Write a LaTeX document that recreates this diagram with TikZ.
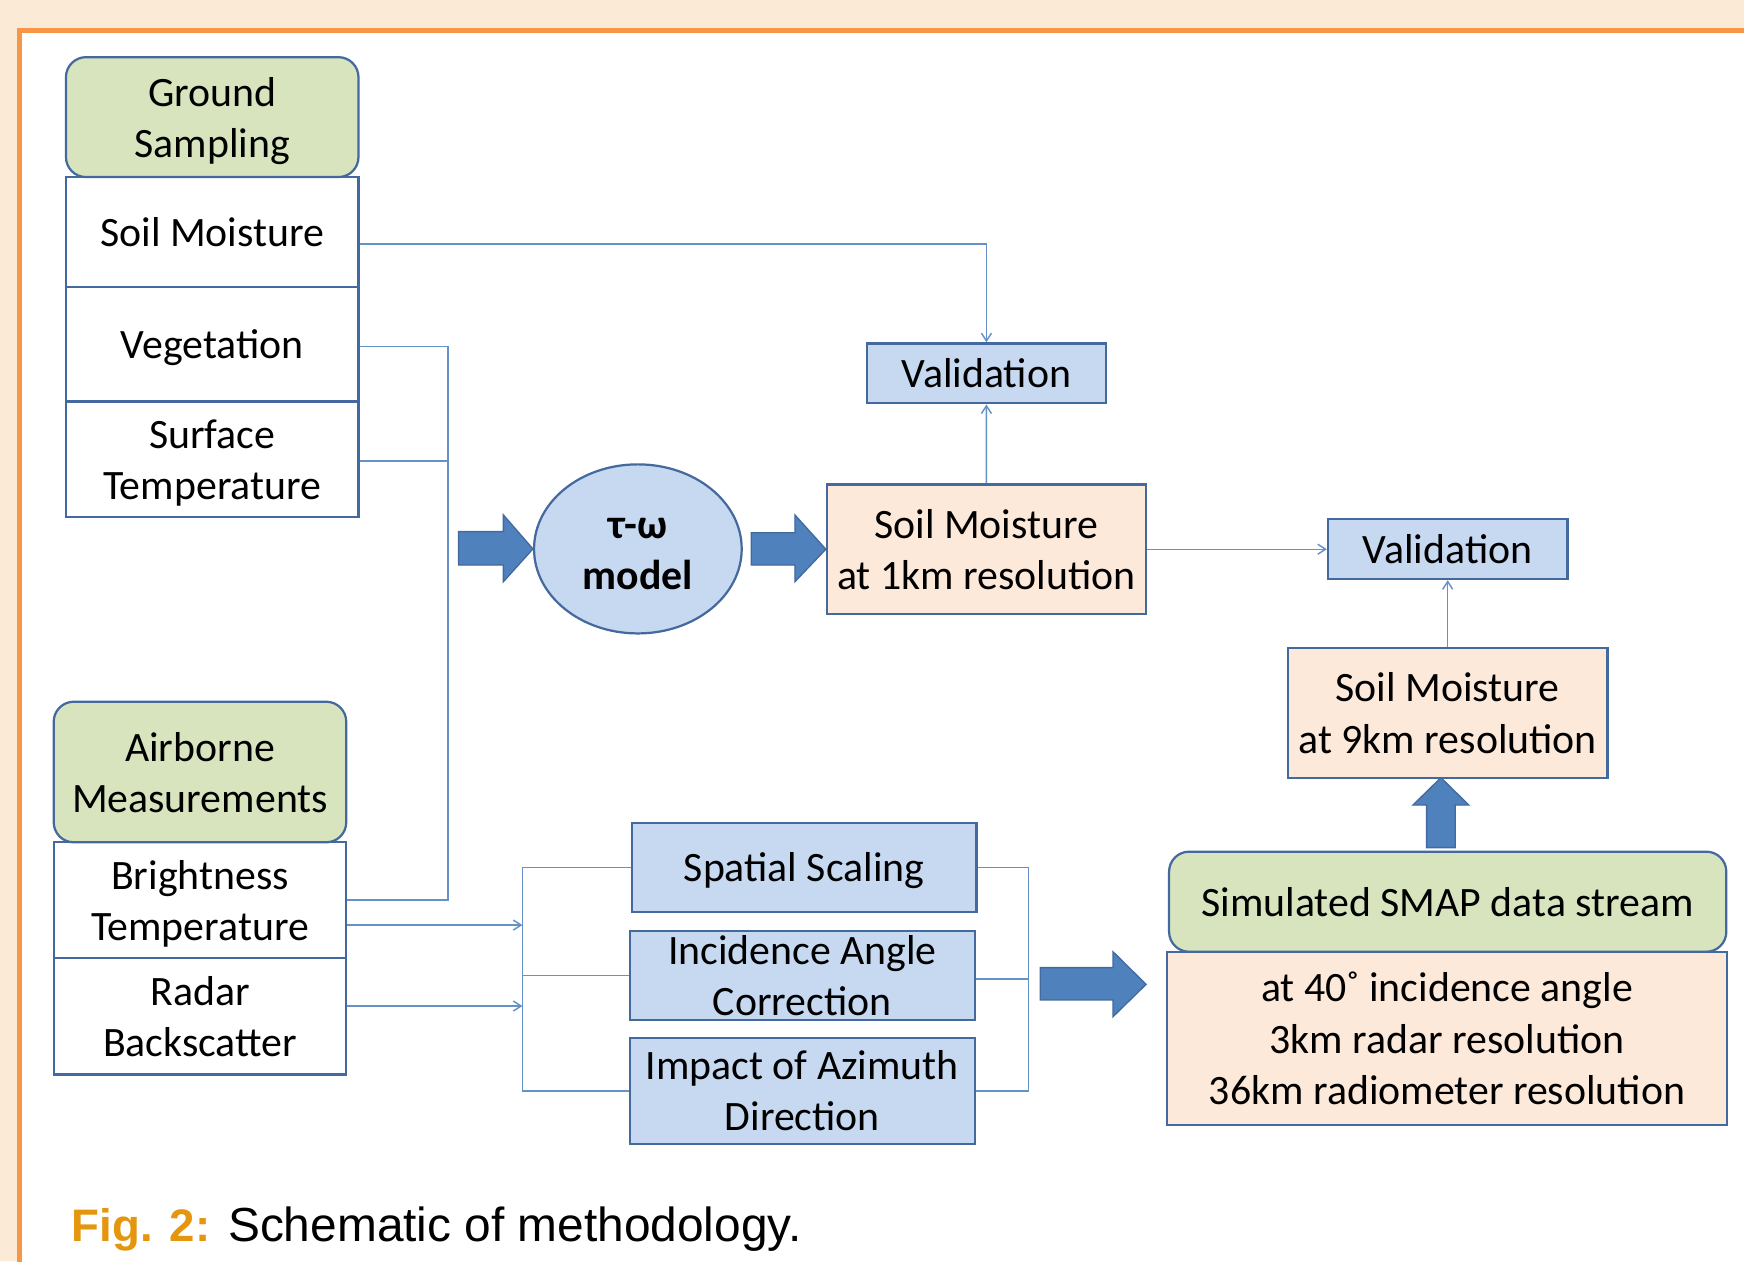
\documentclass[tikz,border=0pt]{standalone}
\usepackage{fontspec}
\setmainfont{Carlito}
\newfontfamily\capfont{Liberation Sans}
\usetikzlibrary{arrows.meta,positioning,shapes.geometric}
\definecolor{cream}{HTML}{FBEBD6}
\definecolor{frameorange}{HTML}{F79646}
\definecolor{boxline}{HTML}{44699E}
\definecolor{linkblue}{HTML}{6690C8}
\definecolor{greenfill}{HTML}{D7E4BD}
\definecolor{bluefill}{HTML}{C6D9F1}
\definecolor{peachfill}{HTML}{FDE9D9}
\definecolor{arrowblue}{HTML}{4F81BD}
\definecolor{figorange}{HTML}{E4960E}
\newcommand\linestrut{\rule[-9.75pt]{0pt}{46pt}}

\begin{document}
\begin{tikzpicture}[x=1pt,y=-1pt,
  box/.style={draw=boxline,line width=2pt,align=center,inner sep=0pt,font=\fontsize{37.6}{46}\selectfont},
  lines/.style={execute at begin node=\linestrut,execute at end node=\linestrut},
  head/.style={box,lines,fill=greenfill,rounded corners=18pt},
  item/.style={box,lines,fill=white},
  task/.style={box,fill=bluefill},
  result/.style={box,lines,fill=peachfill},
  conn/.style={draw=linkblue,line width=1.3pt},
  bigarrow/.style={fill=arrowblue,draw=boxline,line width=1.2pt},
  >={Straight Barb[length=7pt,width=9pt]}]
\useasboundingbox (0,0) rectangle (1568,1134);
\fill[cream] (0,0) rectangle (1568,1134);
\fill[white] (17.5,27) rectangle (1568,1134);
\draw[frameorange,line width=4.5pt] (17.5,1140) -- (17.5,27) -- (1575,27);

\node[item,minimum width=263pt,minimum height=98.8pt] (SoilM) at (190.8,208.6) {Soil Moisture};
\node[item,minimum width=263pt,minimum height=103pt] (Veg) at (190.8,309.5) {Vegetation};
\node[item,minimum width=263pt,minimum height=104pt] (SurfT) at (190.8,413) {\linestrut Surface\\Temperature};
\node[head,minimum width=263pt,minimum height=107.8pt] (Ground) at (190.8,105.3) {\linestrut Ground\\Sampling};

\node[item,minimum width=263pt,minimum height=103.7pt] (Bright) at (179.8,809.2) {\linestrut Brightness\\Temperature};
\node[item,minimum width=263pt,minimum height=105pt] (Radar) at (179.8,913.5) {\linestrut Radar\\Backscatter};
\node[head,minimum width=263pt,minimum height=126.4pt] (Airborne) at (179.8,694.1) {\linestrut Airborne\\Measurements};

\node[box,lines,ellipse,fill=bluefill,minimum width=186.7pt,minimum height=152pt] (Tau) at (573.5,493.5) {\linestrut\textbf{τ-ω}\\\textbf{model}};
\node[task,minimum width=214.7pt,minimum height=53.9pt] (Val1) at (886.9,335.7) {Validation};
\node[result,minimum width=286.6pt,minimum height=116.5pt] (SM1) at (886.8,493.8) {\linestrut Soil Moisture\\at 1km resolution};
\node[task,minimum width=215.3pt,minimum height=53.7pt] (Val2) at (1301.6,493.8) {Validation};
\node[result,minimum width=287.3pt,minimum height=116.9pt] (SM9) at (1301.6,640.8) {\linestrut Soil Moisture\\at 9km resolution};
\node[result,minimum width=503.4pt,minimum height=155.8pt] (Specs) at (1301,933.6) {\linestrut at 40˚ incidence angle\\3km radar resolution\\36km radiometer resolution};
\node[head,minimum width=501pt,minimum height=90pt] (SMAP) at (1301.6,810.7) {Simulated SMAP data stream};

\node[task,lines,minimum width=310pt,minimum height=80pt] (Spatial) at (723,779.7) {Spatial Scaling};
\node[task,minimum width=310pt,minimum height=80.3pt] (Incid) at (721.4,877) {Incidence Angle\\Correction};
\node[task,minimum width=310pt,minimum height=95.6pt] (Impact) at (721.4,980.8) {Impact of Azimuth\\Direction};

\node[anchor=base west,inner sep=0pt,font=\capfont\fontsize{43}{50}\selectfont] (caption) at (64.5,1116) {\textcolor{figorange}{\fontsize{41}{50}\selectfont\bfseries Fig. 2:} Schematic of methodology.};

\coordinate (busL) at (402.6,0);
\coordinate (busM) at (469.7,0);
\coordinate (busR) at (924.5,0);
\coordinate (jST) at (402.6,414.5);
\coordinate (jBT) at (469.7,831.7);
\coordinate (jRB) at (469.7,904.5);
\coordinate (jIC) at (924.5,880.2);

\draw[conn,->] ([yshift=-10.6pt]SoilM.east) -| (Val1.north);
\draw[conn] ([yshift=-2pt]Veg.east) -| (busL |- Bright.east) -- (Bright.east);
\draw[conn] (SurfT.east |- jST) -- (jST);
\draw[conn,->] (Bright.east |- jBT) -- (jBT);
\draw[conn,->] (Radar.east |- jRB) -- (jRB);
\draw[conn] (Spatial.west) -| (busM |- Impact.west) -- (Impact.west);
\draw[conn] (Incid.west) -- (busM |- Incid.west);
\draw[conn] (Spatial.east) -| (busR |- Impact.east) -- (Impact.east);
\draw[conn] (Incid.east |- jIC) -- (jIC);
\path[conn,->]
(SM1) edge (Val1)
(SM1) edge (Val2)
(SM9) edge (Val2);

\filldraw[bigarrow] (412.2,478) -- (452.6,478) -- (452.6,463) -- (Tau.west) -- (452.6,523) -- (452.6,508) -- (412.2,508) -- cycle;
\filldraw[bigarrow] (675.5,479) -- (714.7,479) -- (714.7,463) -- (SM1.west) -- (714.7,523) -- (714.7,508) -- (675.5,508) -- cycle;
\filldraw[bigarrow] (935.3,870) -- (1000.7,870) -- (1000.7,855.7) -- (1030.4,885) -- (1000.7,914.1) -- (1000.7,899) -- (935.3,899) -- cycle;
\filldraw[bigarrow] (1282.6,762.1) -- (1282.6,723.8) -- (1270.3,723.8) -- (1295.5,699.2) -- (1320.6,723.8) -- (1308.4,723.8) -- (1308.4,762.1) -- cycle;
\end{tikzpicture}
\end{document}
